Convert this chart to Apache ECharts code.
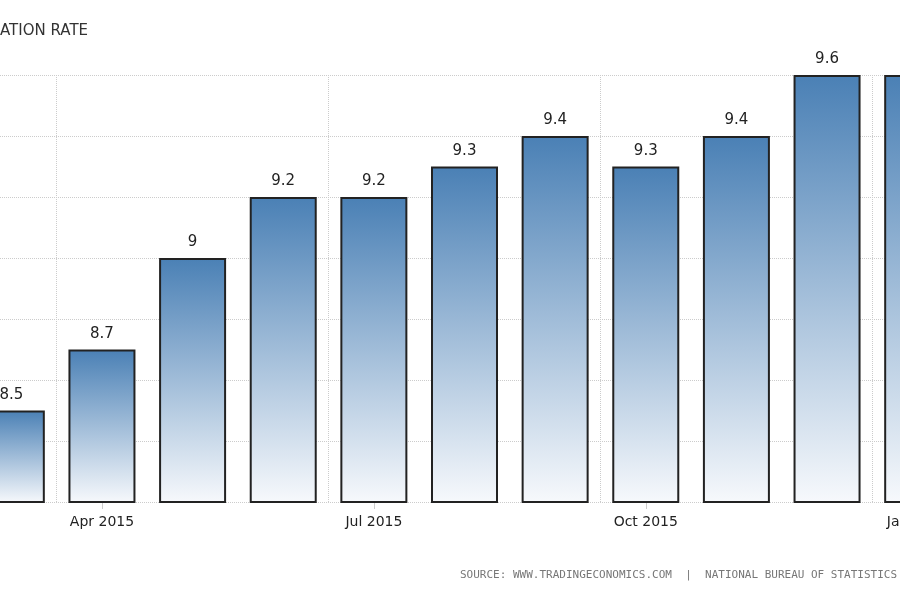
<!DOCTYPE html>
<html><head><meta charset="utf-8">
<script src="https://cdn.jsdelivr.net/npm/echarts@6/dist/echarts.min.js"></script>
<style>html,body{margin:0;width:900px;height:600px;overflow:hidden;background:#fff;position:relative}
#c{position:absolute;left:-40px;top:0;width:1040px;height:600px}</style>
</head><body><div id="c"></div>
<script>
const categories = ['Mar 2015','Apr 2015','May 2015','Jun 2015','Jul 2015','Aug 2015','Sep 2015','Oct 2015','Nov 2015','Dec 2015','Jan 2016'];
const values = [8.5, 8.7, 9.0, 9.2, 9.2, 9.3, 9.4, 9.3, 9.4, 9.6, 9.6];
const shownLabels = ['Apr 2015','Jul 2015','Oct 2015','Jan 2016'];
const titleText = 'ATION RATE';
const sourceText = 'SOURCE: WWW.TRADINGECONOMICS.COM  |  NATIONAL BUREAU OF STATISTICS OF CHINA';
const shown = (i) => shownLabels.indexOf(categories[i]) >= 0;
const chart = echarts.init(document.getElementById('c'));
chart.setOption({
  animation:false,
  graphic:[
    {type:'text',left:40,top:24,style:{text:titleText,font:'15px "DejaVu Sans", sans-serif',fill:'#333'}},
    {type:'text',left:500,top:570,style:{text:sourceText,font:'11px "DejaVu Sans Mono", monospace',fill:'#777'}}
  ],
  grid:{left:6,width:997,top:75,height:427},
  xAxis:{type:'category',data:categories,
    axisLine:{show:false},
    axisTick:{show:true,alignWithLabel:true,length:7,interval:(i)=>shown(i),lineStyle:{color:'#ccc'}},
    axisLabel:{interval:(i)=>shown(i),color:'#222',fontSize:14,fontFamily:'DejaVu Sans',margin:13},
    splitLine:{show:true,interval:(i)=>shown(i),lineStyle:{color:'#ccc',type:'dotted'}}
  },
  yAxis:{type:'value',min:8.2,max:9.6,interval:0.2,position:'right',
    axisLabel:{show:false},axisLine:{show:false},axisTick:{show:false},
    splitLine:{lineStyle:{color:'#ccc',type:'dotted'}}},
  series:[{type:'bar',data:values,barWidth:67,
    itemStyle:{borderColor:'#222',borderWidth:2,
      color:new echarts.graphic.LinearGradient(0,0,0,1,[{offset:0,color:'#4a80b5'},{offset:1,color:'#f7f9fc'}])},
    label:{show:true,position:'top',distance:8,color:'#222',fontSize:15,fontFamily:'DejaVu Sans'}
  }]
});
</script></body></html>
